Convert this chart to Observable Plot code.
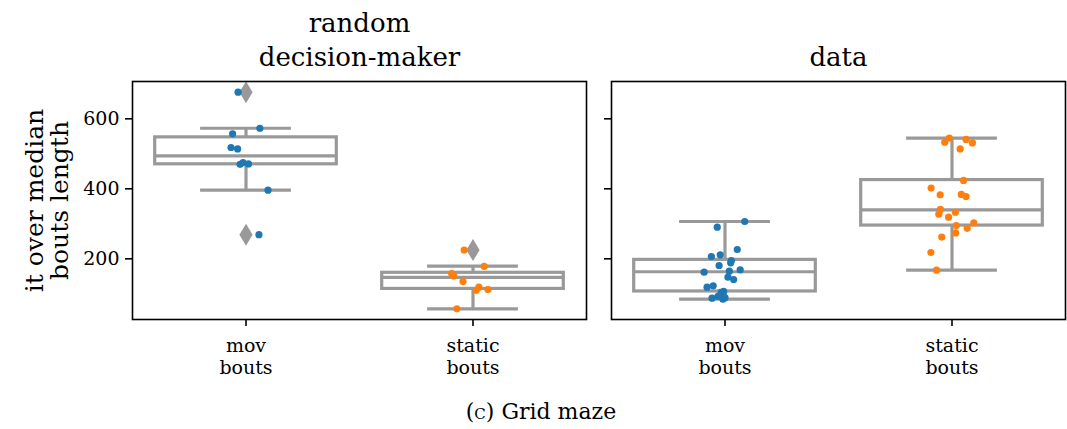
<!DOCTYPE html>
<html>
<head>
<meta charset="utf-8">
<script src="https://cdn.jsdelivr.net/npm/d3@7"></script>
<script src="https://cdn.jsdelivr.net/npm/@observablehq/plot@0.6"></script>
<style>
  html, body { margin: 0; padding: 0; background: #fff; overflow: hidden; }
  #chart svg { display: block; }
  #caption {
    box-sizing: border-box;
    width: 1067px;
    padding-left: 15px;
    text-align: center;
    font-family: "DejaVu Serif", serif;
    font-size: 22px;
    color: #000;
    margin-top: 9px;
  }
  #caption .sc { font-variant: small-caps; }
</style>
</head>
<body>
<div id="chart"></div>
<div id="caption">(<span class="sc">c</span>) Grid maze</div>
<script>
// Facet panels and categories
const panels = ["random\ndecision-maker", "data"];
const categories = ["mov\nbouts", "static\nbouts"];
const yLabel = "it over median\nbouts length";

// Individual measurements (value, horizontal jitter in category units)
const randomMov = [676, 573, 557, 518, 514, 470, 475, 471, 396, 269];
const randomMovJitter = [-0.035, 0.061, -0.059, -0.066, -0.037, -0.026, -0.013, 0.011, 0.097, 0.057];
const randomStatic = [225, 178.6, 158, 151, 135, 119, 110, 112, 57];
const randomStaticJitter = [-0.039, 0.049, -0.094, -0.085, -0.044, 0.026, 0.014, 0.066, -0.071];
const dataMov = [306.6, 290.5, 226.6, 206.6, 211.4, 195, 188.6, 180.9, 161.8, 164.8, 168.8, 147.4, 140.9, 118.9, 122.9, 106.7, 104, 92.4, 89, 87.6, 84.7];
const dataMovJitter = [0.087, -0.034, 0.054, -0.060, -0.021, 0.028, 0.025, -0.026, -0.092, 0.019, 0.067, 0.013, 0.038, -0.079, -0.052, -0.006, -0.017, -0.031, 0.0, -0.057, -0.009];
const dataStatic = [545, 533, 541, 531, 514, 424, 402, 383, 384, 378, 341, 327.6, 333, 319, 295, 303, 287, 274, 262, 218, 167.6];
const dataStaticJitter = [-0.012, -0.032, 0.062, 0.090, 0.036, 0.051, -0.092, -0.052, 0.041, 0.062, -0.051, -0.058, 0.015, -0.015, 0.019, 0.096, 0.067, 0.016, -0.045, -0.093, -0.068];

// Box summaries: random mov, random static, data mov, data static
const boxPanel = [0, 0, 1, 1];
const boxCategory = [0, 1, 0, 1];
const whiskerLow = [396, 57, 84.7, 167.6];
const quartile1 = [470, 114, 106.7, 295];
const medians = [494, 147, 163, 340];
const quartile3 = [547, 160, 197, 425];
const whiskerHigh = [573, 179, 306.6, 545];

// Outliers beyond the whiskers
const flierPanel = [0, 0, 0];
const flierCategory = [0, 0, 1];
const flierValues = [676, 269, 225];

const yTicks = [200, 400, 600];

const GREY = "#999999";
const BLUE = "#1f77b4";
const ORANGE = "#ff7f0e";
const FONT = "'DejaVu Serif', serif";

const boxes = boxPanel.map((p, i) => ({
  panel: panels[p], cat: boxCategory[i],
  lo: whiskerLow[i], q1: quartile1[i], med: medians[i], q3: quartile3[i], hi: whiskerHigh[i]
}));

const points = [];
function addSeries(p, cat, values, jitter) {
  values.forEach((v, i) => points.push({panel: panels[p], cat, x: cat + jitter[i], y: v, color: cat === 0 ? BLUE : ORANGE}));
}
addSeries(0, 0, randomMov, randomMovJitter);
addSeries(0, 1, randomStatic, randomStaticJitter);
addSeries(1, 0, dataMov, dataMovJitter);
addSeries(1, 1, dataStatic, dataStaticJitter);

const fliers = flierValues.map((v, i) => ({panel: panels[flierPanel[i]], cat: flierCategory[i], y: v}));

// Tall, narrow diamond for outliers
const thinDiamond = {
  draw(context, size) {
    const r = Math.sqrt(size / Math.PI);
    const w = r * 0.6;
    context.moveTo(0, -r);
    context.lineTo(w, 0);
    context.lineTo(0, r);
    context.lineTo(-w, 0);
    context.closePath();
  }
};

const chart = Plot.plot({
  width: 1067,
  height: 390,
  marginLeft: 131,
  marginRight: 1,
  marginTop: 81,
  marginBottom: 71,
  style: {fontFamily: FONT, background: "white", color: "black"},
  fx: {domain: panels, paddingInner: 0.052, paddingOuter: 0, label: null},
  x: {domain: [-0.5, 1.5]},
  y: {domain: [26.6, 706.6]},
  color: {type: "identity"},
  marks: [
    Plot.rect(boxes, {fx: "panel", x1: d => d.cat - 0.4, x2: d => d.cat + 0.4, y1: "q1", y2: "q3", fill: "white", stroke: GREY, strokeWidth: 3.2}),
    Plot.ruleX(boxes, {fx: "panel", x: "cat", y1: "lo", y2: "q1", stroke: GREY, strokeWidth: 3.2}),
    Plot.ruleX(boxes, {fx: "panel", x: "cat", y1: "q3", y2: "hi", stroke: GREY, strokeWidth: 3.2}),
    Plot.ruleY(boxes, {fx: "panel", y: "lo", x1: d => d.cat - 0.2, x2: d => d.cat + 0.2, stroke: GREY, strokeWidth: 3.2}),
    Plot.ruleY(boxes, {fx: "panel", y: "hi", x1: d => d.cat - 0.2, x2: d => d.cat + 0.2, stroke: GREY, strokeWidth: 3.2}),
    Plot.ruleY(boxes, {fx: "panel", y: "med", x1: d => d.cat - 0.4, x2: d => d.cat + 0.4, stroke: GREY, strokeWidth: 3.2}),
    Plot.dot(fliers, {fx: "panel", x: "cat", y: "y", symbol: thinDiamond, r: 11, fill: GREY, stroke: "none"}),
    Plot.dot(points, {fx: "panel", x: "x", y: "y", r: 3.6, fill: "color", stroke: "none"}),
    Plot.frame({stroke: "black", strokeWidth: 1.6}),
    Plot.axisX({ticks: [0, 1], tickFormat: i => categories[i], tickSize: 7, tickPadding: 10, strokeWidth: 1.6, fontSize: 19, lineHeight: 1.15, label: null}),
    Plot.axisY({ticks: yTicks, tickSize: 7, tickPadding: 6, strokeWidth: 1.6, fontSize: 19, label: null}),
    Plot.axisY({ticks: yTicks, tickSize: 7, strokeWidth: 1.6, tickFormat: () => "", label: null, facetAnchor: "right"}),
    // Two-line y-axis title beside the left panel
    Plot.text([yLabel], {fx: () => panels[0], frameAnchor: "left", rotate: -90, dx: -85, fontSize: 25, lineHeight: 1.0, textAnchor: "middle", lineAnchor: "middle"}),
    Plot.axisFx({anchor: "top", tickSize: 0, tickPadding: 16, fontSize: 26, lineHeight: 1.27, label: null})
  ]
});

document.getElementById("chart").appendChild(chart);
</script>
</body>
</html>
